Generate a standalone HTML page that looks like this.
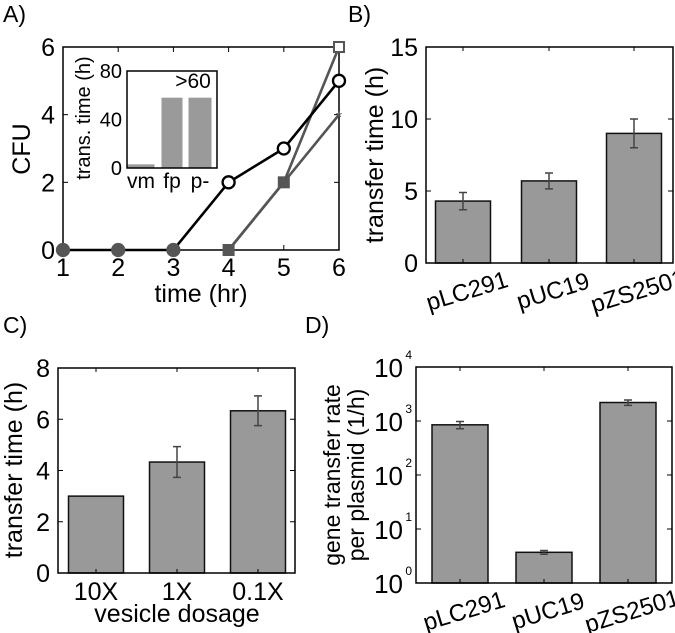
<!DOCTYPE html>
<html><head><meta charset="utf-8"><style>
body{margin:0;background:#fff;}
svg{display:block;font-family:"Liberation Sans","DejaVu Sans",sans-serif;}
</style></head><body>
<svg id="fig" width="675" height="633" viewBox="0 0 675 633"></svg>
<script>
// Panel A data
const aX = [1,2,3,4,5,6];
const aCircle = [0,0,0,2,3,5];
const aSquareX = [4,5,6];
const aSquare = [0,2,6];
const aStarX = [4,5,6];
const aStar = [0,2,4];
const aXTicks = [1,2,3,4,5,6];
const aYTicks = [0,2,4,6];
// inset
const insetCats = ["vm","fp","p-"];
const insetVals = [3,58,58];
const insetYTicks = [0,40,80];
// Panel B
const bCats = ["pLC291","pUC19","pZS2501"];
const bVals = [4.3,5.7,9.0];
const bErr = [0.6,0.55,1.0];
const bYTicks = [0,5,10,15];
// Panel C
const cCats = ["10X","1X","0.1X"];
const cVals = [3.0,4.33,6.33];
const cErr = [0,0.6,0.58];
const cYTicks = [0,2,4,6,8];
// Panel D
const dCats = ["pLC291","pUC19","pZS2501"];
const dVals = [850,3.7,2200];
const dErrLo = [720,3.4,1950];
const dErrHi = [980,4.0,2450];
const dYExp = [0,1,2,3,4];

const NS="http://www.w3.org/2000/svg";
const svg=document.getElementById('fig');
function el(tag,attrs,parent,text){const e=document.createElementNS(NS,tag);for(const k in attrs)e.setAttribute(k,attrs[k]);if(text!==undefined)e.textContent=text;(parent||svg).appendChild(e);return e;}
function lin(d0,d1,r0,r1){return v=>r0+(v-d0)/(d1-d0)*(r1-r0);}

function frame(g,x0,y0,x1,y1){
  const r=el('rect',{x:x0,y:y0,width:x1-x0,height:y1-y0,fill:'none',stroke:'#000','stroke-width':1.5},g);
  
  
}
function label(g,x,y,t,size,anchor,name,extra){
  const e=el('text',Object.assign({x:x,y:y,'font-size':size,'text-anchor':anchor||'middle',fill:'#000'},extra||{}),g,t);
  
  
  return e;
}
function panelLabel(x,y,t,n){label(svg,x,y,t,23,'start',n);}

// ---------- Panel A ----------
panelLabel(3,22,"A)","panel-a-label");
const gA=el('g',{});


const ax=lin(1,6,63,339), ay=lin(0,6,250,47);
frame(gA,63,47,339,250);
aXTicks.forEach(t=>{el('line',{x1:ax(t),x2:ax(t),y1:250,y2:245,stroke:'#000'},gA);el('line',{x1:ax(t),x2:ax(t),y1:47,y2:52,stroke:'#000'},gA);label(gA,ax(t),276,String(t),25,'middle','x-tick-label');});
aYTicks.forEach(t=>{el('line',{x1:63,x2:68,y1:ay(t),y2:ay(t),stroke:'#000'},gA);el('line',{x1:339,x2:334,y1:ay(t),y2:ay(t),stroke:'#000'},gA);label(gA,55,ay(t)+9,String(t),25,'end','y-tick-label');});
label(gA,201,302,"time (hr)",25,'middle','x-axis-title');
label(gA,30,149,"CFU",25,'middle','y-axis-title',{transform:'rotate(-90 30 149)'});
function poly(xs,ys,col,name){const p=el('polyline',{points:xs.map((x,i)=>ax(x)+','+ay(ys[i])).join(' '),fill:'none',stroke:col,'stroke-width':2.6},gA);}
poly(aStarX,aStar,'#555','series-star-line');
poly(aSquareX,aSquare,'#555','series-square-line');
poly(aX,aCircle,'#000','series-circle-line');
aStarX.forEach((x,i)=>{if(i>0){const t=el('text',{x:ax(x),y:ay(aStar[i])+8,'font-size':16,'text-anchor':'middle',fill:'#555'},gA,'*');}});
aSquareX.forEach((x,i)=>{const last=i===aSquareX.length-1;const r=el('rect',{x:ax(x)-5,y:ay(aSquare[i])-5,width:10,height:10,fill:last?'#fff':'#555',stroke:'#555','stroke-width':2},gA);});
aX.forEach((x,i)=>{const c=el('circle',{cx:ax(x),cy:ay(aCircle[i]),r:6,fill:(x<=3)?'#555':'#fff',stroke:(x<=3)?'#555':'#000','stroke-width':2.3},gA);});
// inset
const gI=el('g',{});


el('rect',{x:127,y:71,width:90,height:97,fill:'#fff'},gI);
const iy=lin(0,80,168,71);
const iBx=[141,172,200], iBw=[27,21,23];
insetCats.forEach((c,i)=>{const b=el('rect',{x:iBx[i]-iBw[i]/2,y:iy(insetVals[i]),width:iBw[i],height:168-iy(insetVals[i]),fill:'#9a9a9a'},gI);label(gI,iBx[i],188,c,21,'middle','inset-x-tick-label');});
frame(gI,127,71,217,168);
insetYTicks.forEach(t=>label(gI,122,iy(t)+7,String(t),20,'end','inset-y-tick-label'));
label(gI,193,88,">60",21,'middle','inset-annotation');
label(gI,90,118,"trans. time (h)",20,'middle','inset-y-axis-title',{transform:'rotate(-90 90 118)'});

// ---------- bar chart helper ----------
function barChart(name,cats,vals,errLo,errHi,x0,x1,y0,y1,yfn,bx,bw,rotate,tickFn,ticks){
  const g=el('g',{});
  
  
  cats.forEach((c,i)=>{
    const b=el('rect',{x:bx[i]-bw/2,y:yfn(vals[i]),width:bw,height:y1-yfn(vals[i]),fill:'#999',stroke:'#111','stroke-width':1.5},g);
    
    
    if(errHi[i]!==errLo[i]){
      const e=el('path',{d:`M${bx[i]},${yfn(errHi[i])}V${yfn(errLo[i])}M${bx[i]-4},${yfn(errHi[i])}h8M${bx[i]-4},${yfn(errLo[i])}h8`,stroke:'#444','stroke-width':1.5,fill:'none'},g);
      
      
    }
    if(rotate) label(g,bx[i]+4,y1+36,c,24,'middle','x-tick-label',{transform:`rotate(-17 ${bx[i]+4} ${y1+28})`});
    else label(g,bx[i],y1+27,c,25,'middle','x-tick-label');
  });
  frame(g,x0,y0,x1,y1);
  bx.forEach(x=>{el('line',{x1:x,x2:x,y1:y1,y2:y1-4,stroke:'#000'},g);el('line',{x1:x,x2:x,y1:y0,y2:y0+4,stroke:'#000'},g);});
  ticks.forEach(t=>{const y=yfn(t);el('line',{x1:x0,x2:x0+5,y1:y,y2:y,stroke:'#000'},g);el('line',{x1:x1,x2:x1-5,y1:y,y2:y,stroke:'#000'},g);tickFn(g,t,y);});
  return g;
}

// ---------- Panel B ----------
panelLabel(348,22,"B)","panel-b-label");
const by=lin(0,15,263,47);
const gB=barChart('panel-b-bar-chart',bCats,bVals,bVals.map((v,i)=>v-bErr[i]),bVals.map((v,i)=>v+bErr[i]),426,673,47,263,by,[463,549,634],55,true,
  (g,t,y)=>label(g,418,y+9,String(t),25,'end','y-tick-label'),bYTicks);
label(gB,383,155,"transfer time (h)",25,'middle','y-axis-title',{transform:'rotate(-90 383 155)'});

// ---------- Panel C ----------
panelLabel(3,333,"C)","panel-c-label");
const cy=lin(0,8,573,368);
const gC=barChart('panel-c-bar-chart',cCats,cVals,cVals.map((v,i)=>v-cErr[i]),cVals.map((v,i)=>v+cErr[i]),58,295,368,573,cy,[96,177,258],55,false,
  (g,t,y)=>label(g,50,y+9,String(t),25,'end','y-tick-label'),cYTicks);
label(gC,177,622,"vesicle dosage",25,'middle','x-axis-title');
label(gC,22,470,"transfer time (h)",25,'middle','y-axis-title',{transform:'rotate(-90 22 470)'});

// ---------- Panel D ----------
panelLabel(305,333,"D)","panel-d-label");
const dyExp=lin(0,4,583,367);
const dy=v=>dyExp(Math.log10(v));
const gD=barChart('panel-d-bar-chart',dCats,dVals,dErrLo,dErrHi,416,672,367,583,dy,[460,544,628],56,true,
  (g,t,y)=>{label(g,403,y+10,"10",26,'end','y-tick-label');label(g,412,y-8,String(Math.log10(t)),12,'end','y-tick-exponent');},
  dYExp.map(e=>Math.pow(10,e)));
label(gD,340,475,"gene transfer rate",23,'middle','y-axis-title',{transform:'rotate(-90 340 475)'});
label(gD,364,475,"per plasmid (1/h)",23,'middle','y-axis-title-line2',{transform:'rotate(-90 364 475)'});
</script>
</body></html>
